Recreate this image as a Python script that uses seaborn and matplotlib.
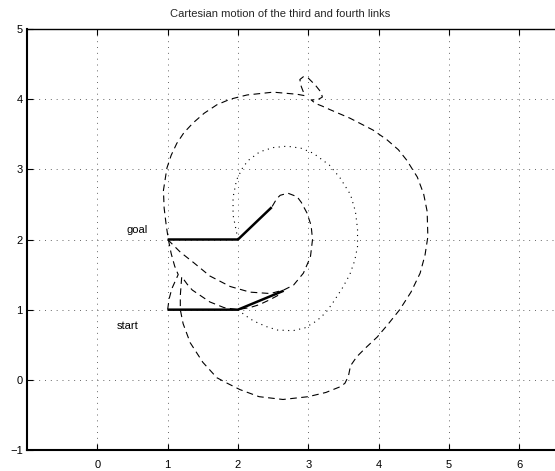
import matplotlib
matplotlib.use("Agg")
import matplotlib.pyplot as plt
import seaborn as sns
import pandas as pd

# ---- data ----
title = "Cartesian motion of the third and fourth links"
xticks = [0, 1, 2, 3, 4, 5, 6]
yticks = [-1, 0, 1, 2, 3, 4, 5]

start_x = [1.0, 2.0, 2.65]
start_y = [1.0, 1.0, 1.27]
goal_x = [1.0, 2.0, 2.48]
goal_y = [2.0, 2.0, 2.46]

elbow_x = [2.0, 2.1, 2.22, 2.4, 2.56, 2.78, 2.95, 3.12, 3.25, 3.35, 3.48, 3.59, 3.66, 3.7, 3.7,
           3.67, 3.6, 3.45, 3.3, 3.07, 2.9, 2.7, 2.5, 2.31, 2.15, 2.07, 1.98, 1.93, 1.93, 1.97, 2.0]
elbow_y = [1.0, 0.92, 0.84, 0.76, 0.71, 0.70, 0.74, 0.84, 0.96, 1.1, 1.3, 1.5, 1.7, 1.9, 2.15,
           2.4, 2.64, 2.88, 3.06, 3.23, 3.3, 3.33, 3.31, 3.25, 3.13, 3.03, 2.85, 2.6, 2.35, 2.15, 2.0]

tip_x = [1.0, 1.1, 1.18, 1.37, 1.6, 1.89, 2.17, 2.46, 2.65, 2.79, 2.93, 3.03, 3.06, 3.04, 2.98,
         2.9, 2.84, 2.71, 2.6, 2.55, 2.48]
tip_y = [2.0, 1.9, 1.82, 1.67, 1.48, 1.33, 1.25, 1.23, 1.28, 1.35, 1.52, 1.75, 2.0, 2.2, 2.38,
         2.53, 2.61, 2.66, 2.63, 2.58, 2.46]

loop_x = [1.0, 1.02, 1.06, 1.15, 1.1, 1.05, 1.01, 0.98, 0.95, 0.94, 0.99, 1.05, 1.13, 1.23, 1.36,
          1.52, 1.7, 1.89, 2.13, 2.5, 2.84, 2.95, 2.9, 2.88, 2.93, 3.0, 3.1, 3.18, 3.2, 3.13,
          3.04, 3.1, 3.2, 3.31, 3.59, 3.92, 4.12, 4.28, 4.4, 4.55, 4.64, 4.69, 4.7, 4.66, 4.59,
          4.46, 4.3, 4.14, 3.98, 3.82, 3.69, 3.6, 3.57, 3.52, 3.45, 3.25, 3.0, 2.64, 2.3, 2.03,
          1.85, 1.7, 1.5, 1.32, 1.22, 1.18, 1.18, 1.2, 1.28, 1.35, 1.6, 1.8, 1.99, 2.17, 2.3,
          2.45, 2.6]
loop_y = [1.0, 1.15, 1.3, 1.5, 1.62, 1.8, 2.0, 2.2, 2.45, 2.7, 3.02, 3.2, 3.37, 3.52, 3.66,
          3.8, 3.92, 4.0, 4.06, 4.1, 4.07, 4.05, 4.18, 4.28, 4.32, 4.3, 4.2, 4.1, 4.03, 3.99,
          3.99, 3.94, 3.9, 3.85, 3.73, 3.56, 3.42, 3.28, 3.13, 2.89, 2.65, 2.4, 2.04, 1.78, 1.52,
          1.25, 1.0, 0.8, 0.61, 0.46, 0.33, 0.2, 0.05, -0.05, -0.1, -0.18, -0.24, -0.28, -0.24, -0.14,
          -0.05, 0.03, 0.25, 0.53, 0.8, 1.0, 1.2, 1.47, 1.36, 1.28, 1.11, 1.03, 1.0, 1.03, 1.07,
          1.14, 1.22]

labels = [("goal", 0.42, 2.14), ("start", 0.27, 0.77)]

# ---- plot ----
sns.set_theme(style="white")
plt.rcParams["font.family"] = ["Liberation Sans", "DejaVu Sans"]

fig = plt.figure(figsize=(5.55, 4.71), dpi=100)
ax = fig.add_axes([27 / 555, 21 / 471, 562.6 / 555, 421 / 471])

dashed = (0, (6, 4))
dotted = (0, (1, 4))
griddot = (0, (1, 5))

def draw(xs, ys, **kw):
    df = pd.DataFrame({"x": xs, "y": ys})
    sns.lineplot(data=df, x="x", y="y", sort=False, estimator=None, ax=ax,
                 color="black", **kw)

draw(loop_x, loop_y, linestyle=dashed, linewidth=0.8)
draw(tip_x, tip_y, linestyle=dashed, linewidth=0.8)
draw(elbow_x, elbow_y, linestyle=dotted, linewidth=0.8)
draw(start_x, start_y, linewidth=1.8, solid_capstyle="butt")
draw(goal_x, goal_y, linewidth=1.8, solid_capstyle="butt")

for txt, tx, ty in labels:
    ax.text(tx, ty, txt, fontsize=8, ha="left", va="center", color="black")

ax.set_xlim(-1, 7)
ax.set_ylim(-1, 5)
ax.set_xticks(xticks)
ax.set_yticks(yticks)
ax.set_xticklabels([str(v) for v in xticks])
ax.set_yticklabels([str(v).replace("-", "\u2212") for v in yticks])
ax.set_xlabel("")
ax.set_ylabel("")

ax.grid(True, color="0.4", linestyle=griddot, linewidth=0.7)
ax.tick_params(direction="in", length=4, width=0.8, color="black", labelsize=8,
               labelcolor="black", top=True, bottom=True, left=True, right=False)
ax.tick_params(axis="x", pad=7)
ax.tick_params(axis="y", pad=3)

for s in ["left", "bottom"]:
    ax.spines[s].set_linewidth(1.5)
    ax.spines[s].set_color("black")
ax.spines["top"].set_linewidth(1.0)
ax.spines["top"].set_color("black")
ax.spines["right"].set_visible(False)

fig.text(280 / 555, 1 - 14 / 471, title, fontsize=8, ha="center", va="center")

fig.savefig("out.png", dpi=100)
